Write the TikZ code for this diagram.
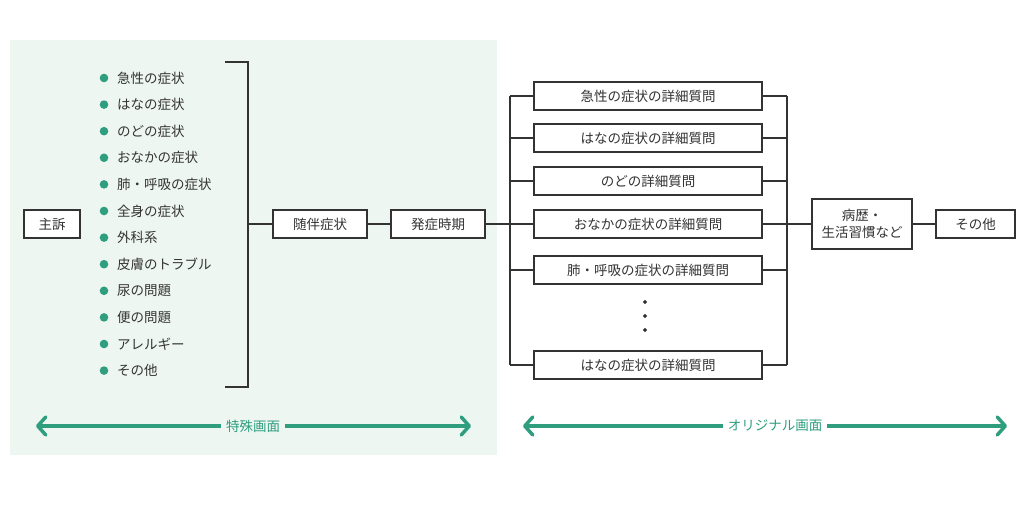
\documentclass[tikz,border=0pt]{standalone}
\usepackage{fontspec}
\newfontfamily\cjk{Noto Sans CJK JP}
\usetikzlibrary{arrows.meta}
\definecolor{bg}{HTML}{EEF6F2}
\definecolor{tl}{HTML}{2E9E7E}
\definecolor{ln}{HTML}{333333}
\begin{document}
\begin{tikzpicture}[x=1pt,y=-1pt,font=\cjk\fontsize{13.5}{17}\selectfont,
 box/.style={draw=ln,line width=1.1pt,fill=white,minimum height=28pt,inner sep=0pt,text=ln},
 ln/.style={draw=ln,line width=1.1pt},
 arr/.style={tl,line width=3.5pt,line cap=round,arrows={Straight Barb[length=8pt,width=18pt,line cap=round,line join=round]-Straight Barb[length=8pt,width=18pt,line cap=round,line join=round]}},
 item/.style={anchor=west,inner sep=0pt,text=ln}]
\useasboundingbox (0,0) rectangle (1024,518);
\fill[bg] (10,40) rectangle (497,455);
\node[box,minimum width=56pt] (shuso) at (52,224) {主訴};
\foreach \t [count=\i] in {急性の症状,はなの症状,のどの症状,おなかの症状,肺・呼吸の症状,全身の症状,外科系,皮膚のトラブル,尿の問題,便の問題,アレルギー,その他}{
 \fill[tl] (104,{78+(\i-1)*26.6}) circle (4.3);
 \node[item] (it\i) at (117,{78+(\i-1)*26.6}) {\t};
}
\coordinate (bt) at (248,62); \coordinate (bb) at (248,387);
\draw[ln] (225,62) -- (bt) -- (bb) -- (225,387);
\node[box,minimum width=94pt] (zuihan) at (320,224) {随伴症状};
\node[box,minimum width=94pt] (hassho) at (438,224) {発症時期};
\draw[ln] (248,224) -- (zuihan.west);
\draw[ln] (zuihan) -- (hassho);
\foreach \t/\y/\n in {急性の症状の詳細質問/96/a,はなの症状の詳細質問/138/b,のどの詳細質問/181/c,おなかの症状の詳細質問/224/d,肺・呼吸の症状の詳細質問/270/e,はなの症状の詳細質問/365/f}{
 \node[box,minimum width=228pt] (\n) at (648,\y) {\t};
 \draw[ln] (510,\y) -- (\n.west);
 \draw[ln] (\n.east) -- (787,\y);
}
\draw[ln] (510,96) -- (510,365);
\draw[ln] (787,96) -- (787,365);
\draw[ln] (hassho.east) -- (510,224);
\foreach \y in {302,316,330} \fill[ln] (645,\y) circle (1.4);
\node[box,minimum width=100pt,minimum height=50pt,align=center] (byo) at (862,224) {病歴・\\生活習慣など};
\node[box,minimum width=79pt] (sono) at (975.5,224) {その他};
\draw[ln] (787,224) -- (byo.west);
\draw[ln] (byo.east) -- (sono.west);
\draw[arr] (36,426) -- (471,426);
\node[text=tl,fill=bg,inner sep=5pt] (l1) at (253,426) {特殊画面};
\draw[arr] (523,426) -- (1007,426);
\node[text=tl,fill=white,inner sep=5pt] (l2) at (775,426) {オリジナル画面};
\end{tikzpicture}
\end{document}
